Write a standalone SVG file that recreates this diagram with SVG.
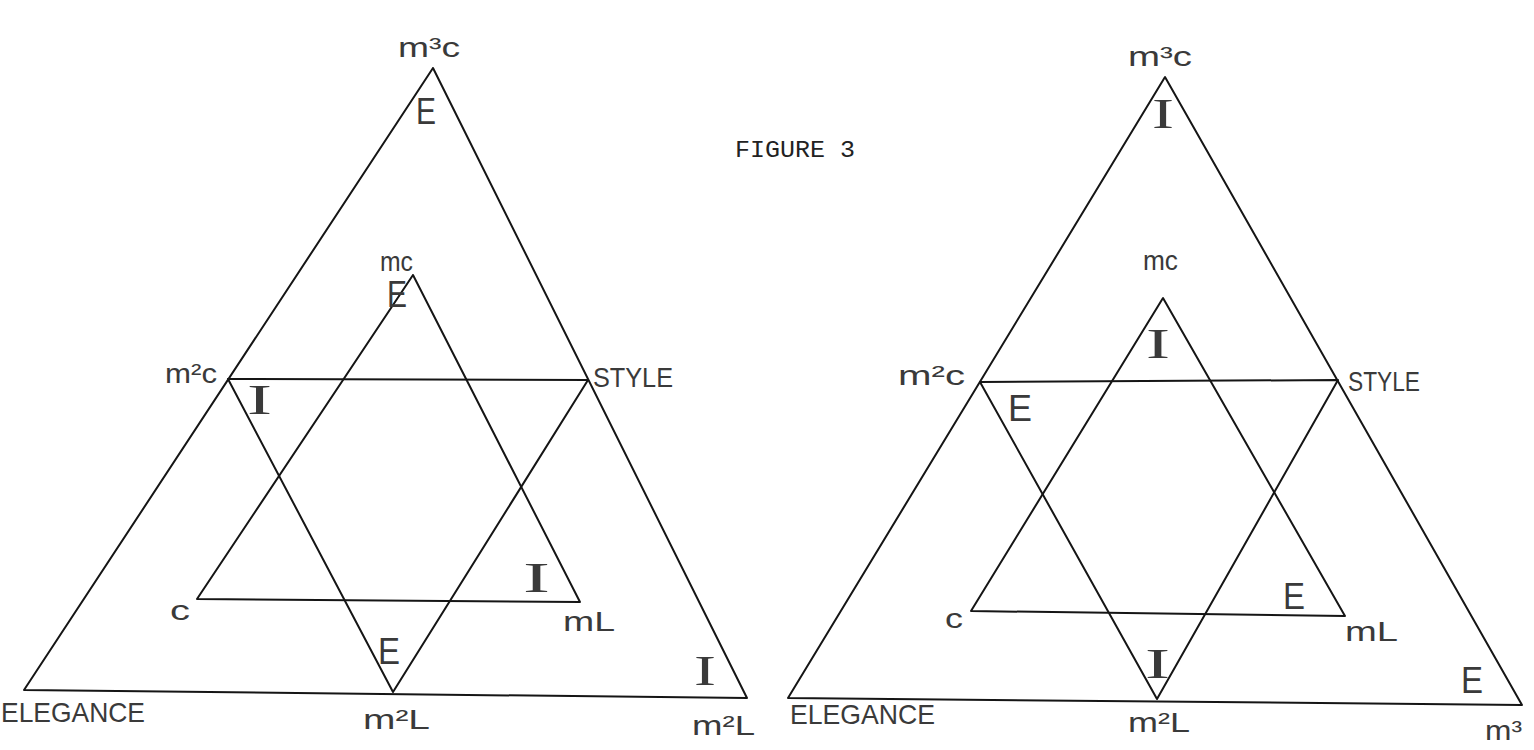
<svg xmlns="http://www.w3.org/2000/svg" width="1534" height="750" viewBox="0 0 1534 750">
<style>
.ln{stroke:#151515;stroke-width:2;fill:none;stroke-linejoin:round;stroke-linecap:round}
.lb{font-family:"Liberation Sans",Arial,sans-serif;fill:#3a3a3a;font-size:28px}
.big{font-family:"Liberation Sans",Arial,sans-serif;fill:#3a3a3a;font-size:36px}
.ii{font-family:"Liberation Serif","Times New Roman",serif;fill:#3a3a3a;font-size:42px}
.ty{font-family:"Liberation Mono","Courier New",monospace;fill:#222;font-size:24px}
</style>
<rect width="1534" height="750" fill="#ffffff"/>
<g id="connectors">
  <g id="left-lines">
    <polygon class="ln" points="433,68 24,690 747,698"/>
    <polygon class="ln" points="228,379 588,380 393,692"/>
    <polygon class="ln" points="413,275 197,599 580,602"/>
  </g>
  <g id="right-lines">
    <polygon class="ln" points="1165,77 788,698 1522,705"/>
    <polygon class="ln" points="980,382 1338,380 1157,699"/>
    <polygon class="ln" points="1163,298 971,611 1345,616"/>
  </g>
</g>
<g id="title"><text class="ty" x="735" y="157" textLength="120" lengthAdjust="spacingAndGlyphs">FIGURE 3</text></g>
<g id="left-figure">
  <g id="l-m3c"><text class="lb" x="398" y="57" textLength="62" lengthAdjust="spacingAndGlyphs">m³c</text></g>
  <g id="l-E1"><text class="big" x="416" y="124" textLength="20" lengthAdjust="spacingAndGlyphs">E</text></g>
  <g id="l-mc"><text class="lb" x="380" y="271" textLength="33" lengthAdjust="spacingAndGlyphs">mc</text></g>
  <g id="l-E2"><text class="big" x="387" y="307" textLength="20" lengthAdjust="spacingAndGlyphs">E</text></g>
  <g id="l-m2c"><text class="lb" x="165" y="383" textLength="52" lengthAdjust="spacingAndGlyphs">m²c</text></g>
  <g id="l-style"><text class="lb" x="593" y="387" textLength="80" lengthAdjust="spacingAndGlyphs">STYLE</text></g>
  <g id="l-I1"><text class="ii" x="247" y="414" textLength="25" lengthAdjust="spacingAndGlyphs">I</text></g>
  <g id="l-c"><text class="lb" x="170" y="620" textLength="20" lengthAdjust="spacingAndGlyphs">c</text></g>
  <g id="l-I2"><text class="ii" x="523" y="592" textLength="27" lengthAdjust="spacingAndGlyphs">I</text></g>
  <g id="l-mL"><text class="lb" x="563" y="631" textLength="52" lengthAdjust="spacingAndGlyphs">mL</text></g>
  <g id="l-E3"><text class="big" x="378" y="664" textLength="22" lengthAdjust="spacingAndGlyphs">E</text></g>
  <g id="l-I3"><text class="ii" x="694" y="685" textLength="22" lengthAdjust="spacingAndGlyphs">I</text></g>
  <g id="l-elegance"><text class="lb" x="1" y="722" textLength="144" lengthAdjust="spacingAndGlyphs">ELEGANCE</text></g>
  <g id="l-m2L-mid"><text class="lb" x="363" y="729" textLength="67" lengthAdjust="spacingAndGlyphs">m²L</text></g>
  <g id="l-m2L-right"><text class="lb" x="692" y="735" textLength="63" lengthAdjust="spacingAndGlyphs">m²L</text></g>
</g>
<g id="right-figure">
  <g id="r-m3c"><text class="lb" x="1128" y="66" textLength="64" lengthAdjust="spacingAndGlyphs">m³c</text></g>
  <g id="r-I1"><text class="ii" x="1152" y="128" textLength="22" lengthAdjust="spacingAndGlyphs">I</text></g>
  <g id="r-mc"><text class="lb" x="1143" y="270" textLength="35" lengthAdjust="spacingAndGlyphs">mc</text></g>
  <g id="r-I2"><text class="ii" x="1146" y="358" textLength="24" lengthAdjust="spacingAndGlyphs">I</text></g>
  <g id="r-m2c"><text class="lb" x="898" y="385" textLength="67" lengthAdjust="spacingAndGlyphs">m²c</text></g>
  <g id="r-style"><text class="lb" x="1348" y="391" textLength="72" lengthAdjust="spacingAndGlyphs">STYLE</text></g>
  <g id="r-E1"><text class="big" x="1008" y="421" textLength="24" lengthAdjust="spacingAndGlyphs">E</text></g>
  <g id="r-c"><text class="lb" x="945" y="628" textLength="18" lengthAdjust="spacingAndGlyphs">c</text></g>
  <g id="r-E2"><text class="big" x="1283" y="609" textLength="22" lengthAdjust="spacingAndGlyphs">E</text></g>
  <g id="r-mL"><text class="lb" x="1345" y="641" textLength="53" lengthAdjust="spacingAndGlyphs">mL</text></g>
  <g id="r-I3"><text class="ii" x="1145" y="678" textLength="25" lengthAdjust="spacingAndGlyphs">I</text></g>
  <g id="r-E3"><text class="big" x="1461" y="693" textLength="22" lengthAdjust="spacingAndGlyphs">E</text></g>
  <g id="r-elegance"><text class="lb" x="790" y="724" textLength="145" lengthAdjust="spacingAndGlyphs">ELEGANCE</text></g>
  <g id="r-m2L"><text class="lb" x="1128" y="732" textLength="62" lengthAdjust="spacingAndGlyphs">m²L</text></g>
  <g id="r-m3"><text class="lb" x="1485" y="740" textLength="37" lengthAdjust="spacingAndGlyphs">m³</text></g>
</g>
</svg>
